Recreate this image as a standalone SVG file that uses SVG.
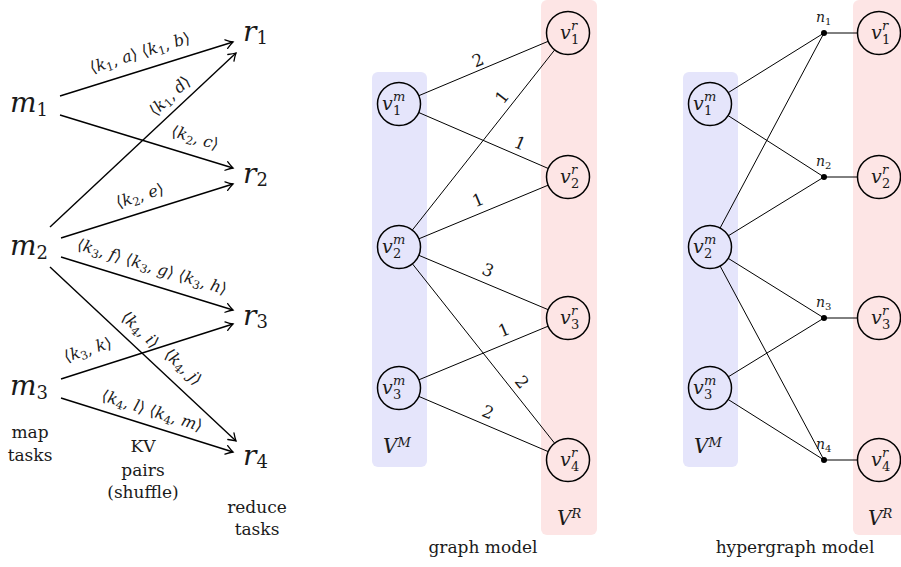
<svg xmlns="http://www.w3.org/2000/svg" width="901" height="567" viewBox="0 0 901 567" font-family="'DejaVu Serif', serif">
<style>
text{font-family:'DejaVu Serif','Liberation Serif',serif;fill:#1a1a1a}
.big{font-size:28px;font-style:italic}
.bsub{font-size:18px;font-style:normal}
.kv{font-size:16px;text-anchor:middle}
.i{font-style:italic}
.s{font-size:11.5px}
.cap{font-size:17px;text-anchor:middle}
.w{font-size:17px;text-anchor:middle}
.v{font-size:19px;font-style:italic}
.vs{font-size:13px}
.vn{font-style:normal}
.n{font-size:14px;font-style:italic}
.ns{font-size:10px;font-style:normal}
.arr{stroke:#000;stroke-width:1.4;fill:none;marker-end:url(#ah)}
.e{stroke:#000;stroke-width:1;fill:none}
.nd{fill:none;stroke:#000;stroke-width:1.5}
.bm{fill:#e5e5fb}
.br{fill:#fde5e5}
</style>
<defs>
<marker id="ah" viewBox="-10 -7 12 14" markerWidth="12" markerHeight="14" refX="0" refY="0" orient="auto" markerUnits="userSpaceOnUse">
<path d="M-7,-4.5 Q-2.5,-1.2 0,0 Q-2.5,1.2 -7,4.5" fill="none" stroke="#000" stroke-width="1.3" stroke-linecap="round"/>
</marker>
</defs>

<g id="left-nodes">
<g id="m1"><text class="big" x="10" y="112">m<tspan class="bsub" dy="4">1</tspan></text></g>
<g id="m2"><text class="big" x="10" y="255">m<tspan class="bsub" dy="4">2</tspan></text></g>
<g id="m3"><text class="big" x="10" y="395">m<tspan class="bsub" dy="4">3</tspan></text></g>
<g id="r1"><text class="big" x="243" y="41">r<tspan class="bsub" dy="3">1</tspan></text></g>
<g id="r2"><text class="big" x="243" y="183">r<tspan class="bsub" dy="3">2</tspan></text></g>
<g id="r3"><text class="big" x="243" y="325">r<tspan class="bsub" dy="3">3</tspan></text></g>
<g id="r4"><text class="big" x="243" y="465">r<tspan class="bsub" dy="3">4</tspan></text></g>
</g>
<g id="left-connectors">
<line class="arr" x1="60" y1="96" x2="233" y2="42"/>
<line class="arr" x1="60" y1="115" x2="233" y2="168"/>
<line class="arr" x1="50" y1="227" x2="236" y2="53"/>
<line class="arr" x1="61" y1="238" x2="233" y2="184"/>
<line class="arr" x1="61" y1="257" x2="233" y2="310"/>
<line class="arr" x1="50" y1="267" x2="236" y2="441"/>
<line class="arr" x1="61" y1="379" x2="233" y2="324"/>
<line class="arr" x1="61" y1="398" x2="233" y2="452"/>
<g transform="translate(140,53) rotate(-17.3)"><text class="kv" y="5">⟨<tspan class="i">k</tspan><tspan class="s" dy="3">1</tspan><tspan dy="-3">, </tspan><tspan class="i">a</tspan>⟩ ⟨<tspan class="i">k</tspan><tspan class="s" dy="3">1</tspan><tspan dy="-3">, </tspan><tspan class="i">b</tspan>⟩</text></g>
<g transform="translate(170,96) rotate(-43)"><text class="kv" y="5">⟨<tspan class="i">k</tspan><tspan class="s" dy="3">1</tspan><tspan dy="-3">, </tspan><tspan class="i">d</tspan>⟩</text></g>
<g transform="translate(195,138) rotate(17)"><text class="kv" y="5">⟨<tspan class="i">k</tspan><tspan class="s" dy="3">2</tspan><tspan dy="-3">, </tspan><tspan class="i">c</tspan>⟩</text></g>
<g transform="translate(140,196) rotate(-17.4)"><text class="kv" y="5">⟨<tspan class="i">k</tspan><tspan class="s" dy="3">2</tspan><tspan dy="-3">, </tspan><tspan class="i">e</tspan>⟩</text></g>
<g transform="translate(152,267) rotate(17.1)"><text class="kv" y="5">⟨<tspan class="i">k</tspan><tspan class="s" dy="3">3</tspan><tspan dy="-3">, </tspan><tspan class="i">f</tspan>⟩ ⟨<tspan class="i">k</tspan><tspan class="s" dy="3">3</tspan><tspan dy="-3">, </tspan><tspan class="i">g</tspan>⟩ ⟨<tspan class="i">k</tspan><tspan class="s" dy="3">3</tspan><tspan dy="-3">, </tspan><tspan class="i">h</tspan>⟩</text></g>
<g transform="translate(140,330) rotate(43.1)"><text class="kv" y="5">⟨<tspan class="i">k</tspan><tspan class="s" dy="3">4</tspan><tspan dy="-3">, </tspan><tspan class="i">i</tspan>⟩</text></g>
<g transform="translate(183,367) rotate(43.1)"><text class="kv" y="5">⟨<tspan class="i">k</tspan><tspan class="s" dy="3">4</tspan><tspan dy="-3">, </tspan><tspan class="i">j</tspan>⟩</text></g>
<g transform="translate(88,350) rotate(-17.7)"><text class="kv" y="5">⟨<tspan class="i">k</tspan><tspan class="s" dy="3">3</tspan><tspan dy="-3">, </tspan><tspan class="i">k</tspan>⟩</text></g>
<g transform="translate(152,411) rotate(17.4)"><text class="kv" y="5">⟨<tspan class="i">k</tspan><tspan class="s" dy="3">4</tspan><tspan dy="-3">, </tspan><tspan class="i">l</tspan>⟩ ⟨<tspan class="i">k</tspan><tspan class="s" dy="3">4</tspan><tspan dy="-3">, </tspan><tspan class="i">m</tspan>⟩</text></g>
</g>
<g id="left-captions">
<text class="cap" x="30" y="438">map</text>
<text class="cap" x="30" y="461">tasks</text>
<text class="cap" x="143" y="452">KV</text>
<text class="cap" x="143" y="476">pairs</text>
<text class="cap" x="143" y="498">(shuffle)</text>
<text class="cap" x="257" y="513">reduce</text>
<text class="cap" x="257" y="535">tasks</text>
</g>

<g id="graph-sets">
<rect class="bm" x="372" y="72" width="55" height="395" rx="6"/>
<rect class="br" x="541" y="0" width="56" height="535" rx="6"/>
<text x="383" y="453" style="font-size:20px;font-style:italic">V<tspan style="font-size:13px" dy="-6">M</tspan></text>
<text x="557" y="525" style="font-size:20px;font-style:italic">V<tspan style="font-size:13px" dy="-7">R</tspan></text>
<text class="cap" x="483" y="553">graph model</text>
</g>
<g id="graph-connectors">
<line class="e" x1="418.8" y1="95.7" x2="548.2" y2="41.3"/>
<line class="e" x1="412.3" y1="230.1" x2="554.7" y2="49.9"/>
<line class="e" x1="418.7" y1="112.5" x2="548.3" y2="168.5"/>
<line class="e" x1="418.9" y1="238.8" x2="548.1" y2="185.2"/>
<line class="e" x1="418.8" y1="255.3" x2="548.2" y2="309.7"/>
<line class="e" x1="418.9" y1="379.8" x2="548.1" y2="326.2"/>
<line class="e" x1="412.4" y1="263.8" x2="554.6" y2="443.2"/>
<line class="e" x1="418.8" y1="396.4" x2="548.2" y2="451.6"/>
<g transform="translate(478,60) rotate(-23)"><text class="w" y="6">2</text></g>
<g transform="translate(502,97) rotate(-51.7)"><text class="w" y="6">1</text></g>
<g transform="translate(520,143) rotate(23)"><text class="w" y="6">1</text></g>
<g transform="translate(478,200) rotate(-22.5)"><text class="w" y="6">1</text></g>
<g transform="translate(488,270) rotate(22.8)"><text class="w" y="6">3</text></g>
<g transform="translate(504,330) rotate(-22.5)"><text class="w" y="6">1</text></g>
<g transform="translate(522,382) rotate(51.6)"><text class="w" y="6">2</text></g>
<g transform="translate(488,412) rotate(23)"><text class="w" y="6">2</text></g>
</g>
<g id="g-vm1"><circle class="nd" cx="399" cy="104" r="21.5"/><text class="v" x="382" y="110">v<tspan class="vs" x="393" y="101">m</tspan><tspan class="vs vn" x="393" y="115">1</tspan></text></g>
<g id="g-vm2"><circle class="nd" cx="399" cy="247" r="21.5"/><text class="v" x="382" y="253">v<tspan class="vs" x="393" y="244">m</tspan><tspan class="vs vn" x="393" y="258">2</tspan></text></g>
<g id="g-vm3"><circle class="nd" cx="399" cy="388" r="21.5"/><text class="v" x="382" y="394">v<tspan class="vs" x="393" y="385">m</tspan><tspan class="vs vn" x="393" y="399">3</tspan></text></g>
<g id="g-vr1"><circle class="nd" cx="568" cy="33" r="21.5"/><text class="v" x="560" y="39">v<tspan class="vs" x="571" y="30">r</tspan><tspan class="vs vn" x="571" y="44">1</tspan></text></g>
<g id="g-vr2"><circle class="nd" cx="568" cy="177" r="21.5"/><text class="v" x="560" y="183">v<tspan class="vs" x="571" y="174">r</tspan><tspan class="vs vn" x="571" y="188">2</tspan></text></g>
<g id="g-vr3"><circle class="nd" cx="568" cy="318" r="21.5"/><text class="v" x="560" y="324">v<tspan class="vs" x="571" y="315">r</tspan><tspan class="vs vn" x="571" y="329">3</tspan></text></g>
<g id="g-vr4"><circle class="nd" cx="568" cy="460" r="21.5"/><text class="v" x="560" y="466">v<tspan class="vs" x="571" y="457">r</tspan><tspan class="vs vn" x="571" y="471">4</tspan></text></g>

<g id="hyper-sets">
<rect class="bm" x="683" y="72" width="55" height="395" rx="6"/>
<rect class="br" x="853" y="0" width="60" height="535" rx="6"/>
<text x="694" y="453" style="font-size:20px;font-style:italic">V<tspan style="font-size:13px" dy="-6">M</tspan></text>
<text x="868" y="525" style="font-size:20px;font-style:italic">V<tspan style="font-size:13px" dy="-7">R</tspan></text>
<text class="cap" x="795" y="553">hypergraph model</text>
</g>
<g id="hyper-connectors">
<line class="e" x1="728.3" y1="92.6" x2="824" y2="33"/>
<line class="e" x1="720.1" y1="228" x2="824" y2="33"/>
<line class="e" x1="728.1" y1="115.6" x2="824" y2="177"/>
<line class="e" x1="728.3" y1="235.8" x2="824" y2="177"/>
<line class="e" x1="728.3" y1="258.4" x2="824" y2="318"/>
<line class="e" x1="728.3" y1="376.8" x2="824" y2="318"/>
<line class="e" x1="720.1" y1="266" x2="824" y2="460"/>
<line class="e" x1="728.2" y1="399.5" x2="824" y2="460"/>
<line class="e" x1="824" y1="33" x2="857.5" y2="33"/>
<line class="e" x1="824" y1="177" x2="857.5" y2="177"/>
<line class="e" x1="824" y1="318" x2="857.5" y2="318"/>
<line class="e" x1="824" y1="460" x2="857.5" y2="460"/>
</g>
<g id="n1"><circle cx="824" cy="33" r="3"/><text class="n" x="816" y="22">n<tspan class="ns" dy="3">1</tspan></text></g>
<g id="n2"><circle cx="824" cy="177" r="3"/><text class="n" x="816" y="166">n<tspan class="ns" dy="3">2</tspan></text></g>
<g id="n3"><circle cx="824" cy="318" r="3"/><text class="n" x="816" y="307">n<tspan class="ns" dy="3">3</tspan></text></g>
<g id="n4"><circle cx="824" cy="460" r="3"/><text class="n" x="816" y="449">n<tspan class="ns" dy="3">4</tspan></text></g>
<g id="h-vm1"><circle class="nd" cx="710" cy="104" r="21.5"/><text class="v" x="693" y="110">v<tspan class="vs" x="704" y="101">m</tspan><tspan class="vs vn" x="704" y="115">1</tspan></text></g>
<g id="h-vm2"><circle class="nd" cx="710" cy="247" r="21.5"/><text class="v" x="693" y="253">v<tspan class="vs" x="704" y="244">m</tspan><tspan class="vs vn" x="704" y="258">2</tspan></text></g>
<g id="h-vm3"><circle class="nd" cx="710" cy="388" r="21.5"/><text class="v" x="693" y="394">v<tspan class="vs" x="704" y="385">m</tspan><tspan class="vs vn" x="704" y="399">3</tspan></text></g>
<g id="h-vr1"><circle class="nd" cx="879" cy="33" r="21.5"/><text class="v" x="871" y="39">v<tspan class="vs" x="882" y="30">r</tspan><tspan class="vs vn" x="882" y="44">1</tspan></text></g>
<g id="h-vr2"><circle class="nd" cx="879" cy="177" r="21.5"/><text class="v" x="871" y="183">v<tspan class="vs" x="882" y="174">r</tspan><tspan class="vs vn" x="882" y="188">2</tspan></text></g>
<g id="h-vr3"><circle class="nd" cx="879" cy="318" r="21.5"/><text class="v" x="871" y="324">v<tspan class="vs" x="882" y="315">r</tspan><tspan class="vs vn" x="882" y="329">3</tspan></text></g>
<g id="h-vr4"><circle class="nd" cx="879" cy="460" r="21.5"/><text class="v" x="871" y="466">v<tspan class="vs" x="882" y="457">r</tspan><tspan class="vs vn" x="882" y="471">4</tspan></text></g>
</svg>
